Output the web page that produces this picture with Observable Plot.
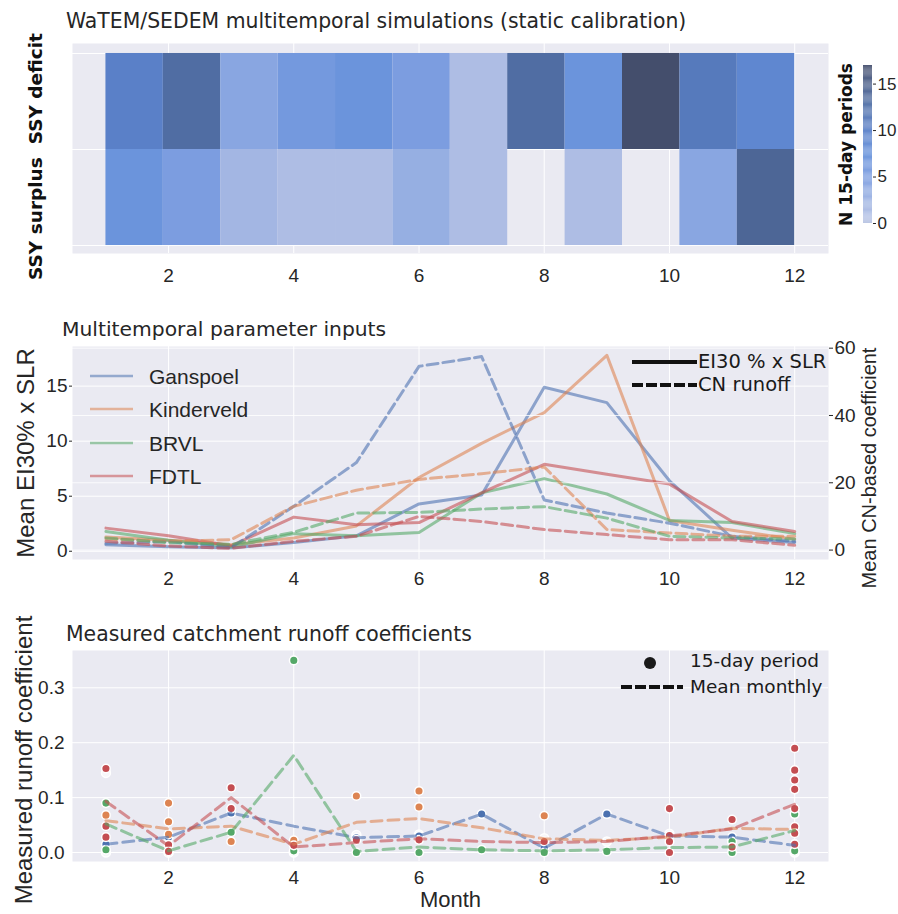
<!DOCTYPE html>
<html><head><meta charset="utf-8">
<script src="https://cdn.jsdelivr.net/npm/d3@7"></script>
<script src="https://cdn.jsdelivr.net/npm/@observablehq/plot@0.6"></script>
<style>
body{margin:0;background:#fff;}
#wrap{position:relative;width:898px;height:914px;overflow:hidden;}
#wrap svg{position:absolute;}
.t{position:absolute;white-space:nowrap;line-height:1;transform:translateY(-50%);color:#262626;}
</style></head><body><div id="wrap"></div><script>
// ---------- data ----------
const months = [1,2,3,4,5,6,7,8,9,10,11,12];
const monthTicks = [2,4,6,8,10,12];
const rowNames = ["SSY surplus", "SSY deficit"];
const deficitCounts = [10,13,4,6,7,5,1,13,7,17,11,9];
const surplusCounts = [7,5,2,1,1,3,1,0,1,0,4,14];
const countTicks = [0,5,10,15];

const catchments = ["Ganspoel","Kinderveld","BRVL","FDTL"];
const palette = ["#4c72b0","#dd8452","#55a868","#c44e52"];

const ei30Ganspoel   = [0.6,0.4,0.3,0.8,1.4,4.3,5.1,14.9,13.5,6.4,1.2,0.8];
const ei30Kinderveld = [1.3,1.0,0.6,1.2,2.3,6.7,9.8,12.6,17.8,2.8,1.9,1.1];
const ei30BRVL       = [1.8,1.0,0.4,1.6,1.4,1.7,5.3,6.6,5.2,2.8,2.6,1.6];
const ei30FDTL       = [2.1,1.4,0.5,3.1,2.4,2.6,5.3,7.9,7.0,6.1,2.7,1.8];
const leftTicks = [0,5,10,15];

const cnGanspoel   = [2.0,2.5,0.7,13,26,54.6,57.5,14.9,11,8,4.1,2.6];
const cnKinderveld = [3.3,2.6,3.1,13,17.8,21,22.7,24.7,6.1,5.1,4.1,4.1];
const cnBRVL       = [3.6,2.2,1.7,5.3,11,11.2,12.2,12.9,9.5,4.1,3.6,3.3];
const cnFDTL       = [2.6,1.2,0.5,2.6,4.1,10,8.5,6.1,4.6,3.1,3.1,1.4];
const rightTicks = [0,20,40,60];

const periodGanspoel = [[1,0.015],[2,0.028],[3,0.072],[5,0.027],[6,0.03],[7,0.07],[8,0.008],[9,0.07],[10,0.03],[11,0.028],[12,0.015]];
const periodKinderveld = [[1,0.068],[2,0.09],[2,0.056],[2,0.033],[3,0.02],[4,0.022],[5,0.103],[6,0.112],[6,0.083],[8,0.067]];
const periodBRVL = [[1,0.09],[1,0.005],[2,0.0],[3,0.037],[4,0.35],[4,0.003],[5,0.0],[6,0.0],[7,0.005],[8,0.0],[9,0.002],[11,0.0],[11,0.02],[12,0.07],[12,0.003]];
const periodFDTL = [[1,0.153],[1,0.048],[1,0.028],[2,0.014],[2,0.002],[3,0.118],[3,0.08],[4,0.013],[5,0.023],[6,0.023],[8,0.02],[10,0.08],[10,0.031],[10,0.02],[10,0.0],[11,0.06],[11,0.01],[12,0.19],[12,0.15],[12,0.132],[12,0.115],[12,0.08],[12,0.047],[12,0.035],[12,0.015]];
const periodFaint = [[1,0.145],[1,0.0],[2,0.0],[4,0.0],[5,0.032],[6,0.033],[8,0.026],[9,0.02],[10,0.034],[11,0.022],[12,0.0]];

const meanGanspoel   = [0.015,0.028,0.072,0.048,0.027,0.03,0.07,0.008,0.07,0.03,0.028,0.013];
const meanKinderveld = [0.058,0.043,0.048,0.015,0.055,0.062,0.045,0.025,0.022,0.028,0.044,0.042];
const meanBRVL       = [0.052,0.003,0.037,0.177,0.002,0.01,0.005,0.003,0.005,0.009,0.01,0.04];
const meanFDTL       = [0.093,0.012,0.1,0.01,0.018,0.025,0.02,0.018,0.02,0.03,0.043,0.088];
const runoffTicks = [0,0.1,0.2,0.3];

// ---------- styling ----------
const BG = "#eaeaf2", TXT = "#262626";
const tickFont = "'Liberation Sans', Arial, sans-serif";
const xDomain = [0.466, 12.54];
const heatColor = {type:"linear", domain:[0,2.5,5,7.5,10,12.5,15,17],
  range:["#b9c4e4","#9db3e3","#7c9de0","#6792db","#5a80c8","#5171aa","#4a5e89","#444e6c"]};
const wrap = document.getElementById("wrap");
function put(svg, left, top){ svg.style.left = left+"px"; svg.style.top = top+"px"; wrap.appendChild(svg); }
function txt(s, left, cy, css){ const d=document.createElement("div"); d.className="t"; d.textContent=s;
  d.style.left=left+"px"; d.style.top=cy+"px"; Object.assign(d.style, css); wrap.appendChild(d); return d; }
const baseStyle = {background:"transparent", fontFamily:tickFont, fontSize:"19px", color:TXT, overflow:"visible"};

// ---------- top: heatmap ----------
const binW = 11/12;
const cells = months.flatMap((m,i)=>[{row:1,i,n:deficitCounts[i]},{row:0,i,n:surplusCounts[i]}]).filter(d=>d.n>0);
const heat = Plot.plot({
  width:898, height:300, marginLeft:72, marginRight:70, marginTop:43, marginBottom:47,
  style: baseStyle,
  x:{domain:xDomain}, y:{domain:[-0.083,2.104], axis:null},
  color: heatColor,
  marks:[
    Plot.frame({fill:BG, stroke:"none"}),
    Plot.gridX({ticks:monthTicks, stroke:"white", strokeOpacity:1, strokeWidth:1}),
    Plot.gridY({ticks:[0,1,2], stroke:"white", strokeOpacity:1, strokeWidth:1}),
    Plot.rect(cells, {x1:d=>1+d.i*binW, x2:d=>1+(d.i+1)*binW, y1:d=>d.row, y2:d=>d.row+1, fill:"n"}),
    Plot.axisX({ticks:monthTicks, tickSize:0, tickPadding:15, fontSize:19, label:null}),
    Plot.text([rowNames.join("  ")], {text:d=>d, frameAnchor:"left", textAnchor:"middle", dx:-36, dy:8, rotate:-90,
      fontWeight:"bold", fontSize:18.5, fontFamily:"DejaVu Sans", fill:"#111"})
  ]
});
put(heat, 0, 0);

const ramp = d3.range(0, 17, 0.1);
const cbar = Plot.plot({
  width:60, height:300, marginLeft:25, marginRight:26, marginTop:65, marginBottom:77,
  style: baseStyle,
  x:{axis:null}, y:{domain:[0,17], axis:null}, color: heatColor,
  marks:[
    Plot.barY(ramp, {y1:d=>d, y2:d=>d+0.1, fill:d=>d+0.05, inset:0}),
    Plot.axisY({anchor:"right", ticks:countTicks, tickSize:3, tickPadding:2, fontSize:17, label:null}),
    Plot.text(["N 15-day periods"], {text:d=>d, frameAnchor:"left", textAnchor:"middle", dx:-17, rotate:-90,
      fontWeight:"bold", fontSize:17, fontFamily:"DejaVu Sans", fill:"#111"})
  ]
});
put(cbar, 838, 0);
txt("WaTEM/SEDEM multitemporal simulations (static calibration)", 66, 21, {fontFamily:"DejaVu Sans", fontSize:"20.4px"});

// ---------- middle: parameter inputs ----------
const ei30Series = [ei30Ganspoel, ei30Kinderveld, ei30BRVL, ei30FDTL];
const cnSeries = [cnGanspoel, cnKinderveld, cnBRVL, cnFDTL];
const solidRows = catchments.flatMap((c,k)=>months.map((m,j)=>({c,m,v:ei30Series[k][j]})));
const dashRows = catchments.flatMap((c,k)=>months.map((m,j)=>({c,m,v:cnSeries[k][j]})));
const catColor = {domain:catchments, range:palette};
const midL = Plot.plot({
  width:898, height:300, marginLeft:72, marginRight:70, marginTop:46, marginBottom:41,
  style: baseStyle,
  x:{domain:xDomain}, y:{domain:[-0.75,18.6]}, color:catColor,
  marks:[
    Plot.frame({fill:BG, stroke:"none"}),
    Plot.gridX({ticks:monthTicks, stroke:"white", strokeOpacity:1}),
    Plot.gridY({ticks:leftTicks, stroke:"white", strokeOpacity:1}),
    Plot.line(solidRows, {x:"m", y:"v", z:"c", stroke:"c", strokeWidth:3, strokeOpacity:0.6}),
    Plot.axisX({ticks:monthTicks, tickSize:0, tickPadding:12, fontSize:19, label:null}),
    Plot.axisY({ticks:leftTicks, tickSize:3, tickPadding:2, fontSize:19, label:null}),
    Plot.text(["Mean EI30% x SLR"], {text:d=>d, frameAnchor:"left", textAnchor:"middle", dx:-46, rotate:-90,
      fontSize:24, fontFamily:tickFont, fill:TXT})
  ]
});
put(midL, 0, 300);
const midR = Plot.plot({
  width:898, height:300, marginLeft:72, marginRight:70, marginTop:46, marginBottom:41,
  style: baseStyle,
  x:{domain:xDomain, axis:null}, y:{domain:[-2.8,60.5]}, color:catColor,
  marks:[
    Plot.gridY({ticks:rightTicks, stroke:"white", strokeOpacity:0.8}),
    Plot.line(dashRows, {x:"m", y:"v", z:"c", stroke:"c", strokeWidth:3, strokeOpacity:0.6, strokeDasharray:"11,5"}),
    Plot.axisY({anchor:"right", ticks:rightTicks, tickSize:4, tickPadding:2, fontSize:19, label:null}),
    Plot.text(["Mean CN-based coefficient"], {text:d=>d, frameAnchor:"right", textAnchor:"middle", dx:41, dy:15, rotate:-90,
      fontSize:20, fontFamily:tickFont, fill:TXT})
  ]
});
put(midR, 0, 300);
txt("Multitemporal parameter inputs", 62, 329, {fontFamily:"DejaVu Sans", fontSize:"20.3px"});

function swatch(left, cy, w, color, opacity, width, dash){
  const s = d3.create("svg").attr("width", w).attr("height", 10);
  s.append("line").attr("x1",0).attr("x2",w).attr("y1",5).attr("y2",5)
    .attr("stroke",color).attr("stroke-opacity",opacity).attr("stroke-width",width)
    .attr("stroke-dasharray", dash || null);
  const n = s.node(); n.style.left=left+"px"; n.style.top=(cy-5)+"px"; wrap.appendChild(n);
}
catchments.forEach((c,k)=>{
  const cy = 376 + k*33.3;
  swatch(90, cy, 43, palette[k], 0.55, 2.5);
  txt(c, 149, cy, {fontFamily:tickFont, fontSize:"21px"});
});
swatch(632, 362, 65, "#111", 1, 4);
txt("EI30 % x SLR", 698, 362, {fontFamily:"DejaVu Sans", fontSize:"19.5px", color:"#1a1a1a"});
swatch(632, 385, 65, "#111", 1, 4, "11,3");
txt("CN runoff", 698, 385, {fontFamily:"DejaVu Sans", fontSize:"19.5px", color:"#1a1a1a"});

// ---------- bottom: runoff coefficients ----------
const periodSets = [periodGanspoel, periodKinderveld, periodBRVL, periodFDTL];
const meanSets = [meanGanspoel, meanKinderveld, meanBRVL, meanFDTL];
const pts = catchments.flatMap((c,k)=>periodSets[k].map(([m,v])=>({c,m,v})));
const faint = periodFaint.map(([m,v])=>({m,v}));
const means = catchments.flatMap((c,k)=>months.map((m,j)=>({c,m,v:meanSets[k][j]})));
const bot = Plot.plot({
  width:898, height:314, marginLeft:72, marginRight:70, marginTop:50, marginBottom:53,
  style: baseStyle,
  x:{domain:xDomain}, y:{domain:[-0.0164,0.368]}, color:catColor,
  marks:[
    Plot.frame({fill:BG, stroke:"none"}),
    Plot.gridX({ticks:monthTicks, stroke:"white", strokeOpacity:1}),
    Plot.gridY({ticks:runoffTicks, stroke:"white", strokeOpacity:1}),
    Plot.dot(faint, {x:"m", y:"v", r:4.5, fill:"#f7f7fa", stroke:"white", strokeWidth:1.5}),
    Plot.dot(pts, {x:"m", y:"v", r:4.3, fill:"c", stroke:"white", strokeWidth:1.5}),
    Plot.line(means, {x:"m", y:"v", z:"c", stroke:"c", strokeWidth:3, strokeOpacity:0.6, strokeDasharray:"11,6"}),
    Plot.axisX({ticks:monthTicks, tickSize:0, tickPadding:9, fontSize:19, label:null}),
    Plot.axisY({ticks:runoffTicks, tickSize:0, tickPadding:8, fontSize:19, tickFormat:d3.format(".1f"), label:null}),
    Plot.text(["Month"], {text:d=>d, frameAnchor:"bottom", lineAnchor:"middle", dy:38, fontSize:22, fontFamily:tickFont, fill:TXT}),
    Plot.text(["Measured runoff coefficient"], {text:d=>d, frameAnchor:"left", textAnchor:"middle", dx:-48, dy:4, rotate:-90,
      fontSize:24, fontFamily:tickFont, fill:TXT})
  ]
});
put(bot, 0, 600);
txt("Measured catchment runoff coefficients", 66, 634, {fontFamily:"DejaVu Sans", fontSize:"20.4px"});

// bottom legend
(function(){
  const s = d3.create("svg").attr("width", 14).attr("height", 14);
  s.append("circle").attr("cx",7).attr("cy",7).attr("r",6).attr("fill","#1a1a1a");
  const n = s.node(); n.style.left="643px"; n.style.top="656px"; wrap.appendChild(n);
})();
txt("15-day period", 690, 661, {fontFamily:"DejaVu Sans", fontSize:"18.5px", color:"#1a1a1a"});
swatch(621, 687, 62, "#111", 1, 4, "11,3");
txt("Mean monthly", 690, 687, {fontFamily:"DejaVu Sans", fontSize:"18.5px", color:"#1a1a1a"});
</script></body></html>
